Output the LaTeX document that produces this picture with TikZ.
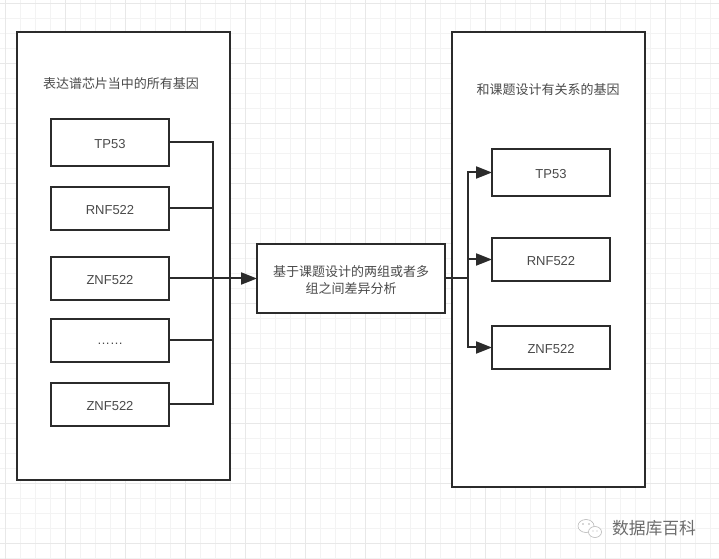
\documentclass[tikz,border=0pt]{standalone}
\usepackage{fontspec}
\setmainfont{Liberation Sans}
\newfontfamily\cjk{Noto Sans CJK SC}
\usetikzlibrary{arrows.meta,positioning,calc}
\definecolor{ink}{HTML}{2B2B2B}
\definecolor{label}{HTML}{4A4A4A}
\definecolor{gridminor}{HTML}{F3F3F3}
\definecolor{gridmajor}{HTML}{E8E8E8}
\tikzset{
  every node/.style={inner sep=0pt,outer sep=0pt},
  panel/.style={draw=ink,line width=1.6pt,fill=white},
  genebox/.style={draw=ink,line width=1.6pt,fill=white,text=label,text height=9.5pt,text depth=0pt,font=\fontsize{9.75pt}{12pt}\selectfont},
  caption/.style={text=label,font=\cjk\fontsize{9.75pt}{14pt}\selectfont},
  wire/.style={draw=ink,line width=1.5pt},
  feed/.style={wire,-{Triangle[length=12pt,width=9pt]}},
}
\begin{document}
\begin{tikzpicture}[x=0.75pt,y=-0.75pt]
\useasboundingbox (0,0) rectangle (719,559);
\fill[white] (0,0) rectangle (719,559);
% background grid
\foreach \x in {5,20,...,719} \draw[gridminor,line width=0.6pt] (\x,0) -- (\x,559);
\foreach \y in {3,18,...,559} \draw[gridminor,line width=0.6pt] (0,\y) -- (719,\y);
\foreach \x in {5,65,...,719} \draw[gridmajor,line width=0.7pt] (\x,0) -- (\x,559);
\foreach \y in {3,63,...,559} \draw[gridmajor,line width=0.7pt] (0,\y) -- (719,\y);
% outer panels
\node[panel,minimum width=159.75pt,minimum height=336pt] (src) at (123.5,256) {};
\node[panel,minimum width=144.75pt,minimum height=341.25pt] (dst) at (548.5,259.5) {};
\node[caption] (srctitle) at (121,83.5) {表达谱芯片当中的所有基因};
\node[caption] (dsttitle) at (548,89.5) {和课题设计有关系的基因};
% source genes
\node[genebox,minimum width=88.5pt,minimum height=35.25pt] (a1) at (110,142.5) {TP53};
\node[genebox,minimum width=88.5pt,minimum height=32.25pt] (a2) at (110,208.5) {RNF522};
\node[genebox,minimum width=88.5pt,minimum height=32.25pt] (a3) at (110,278.5) {ZNF522};
\node[genebox,minimum width=88.5pt,minimum height=32.25pt,text height=6pt] (a4) at (110,340.5) {……};
\node[genebox,minimum width=88.5pt,minimum height=32.25pt] (a5) at (110,404.5) {ZNF522};
% analysis step
\node[draw=ink,line width=1.6pt,fill=white,text=label,minimum width=141pt,minimum height=51.75pt,align=center,font=\cjk\fontsize{9.75pt}{12.75pt}\selectfont] (mid) at (351,278.5) {\rule{0pt}{11.1pt}基于课题设计的两组或者多\\组之间差异分析};
% result genes
\node[genebox,minimum width=88.5pt,minimum height=35.25pt] (b1) at (551,172.5) {TP53};
\node[genebox,minimum width=88.5pt,minimum height=32.25pt] (b2) at (551,259.5) {RNF522};
\node[genebox,minimum width=88.5pt,minimum height=32.25pt] (b3) at (551,347.5) {ZNF522};
% collecting bus on the left
\coordinate (bustop) at (213,0 |- a1.east);
\coordinate (busbot) at (213,0 |- a5.east);
\draw[wire] (a1.east) -- (a1.east -| bustop) -- (busbot) -- (a5.east);
\draw[wire] (a2.east) -- (a2.east -| bustop);
\draw[wire] (a4.east) -- (a4.east -| bustop);
\draw[feed] (a3.east) -- (mid.west);
% distributing bus on the right
\coordinate (split) at (468,0 |- mid.east);
\draw[wire] (mid.east) -- (split);
\draw[feed] (split) |- (b1.west);
\draw[feed] (split) -- (split |- b2.west) -- (b2.west);
\draw[feed] (split) |- (b3.west);
% footer mark
\begin{scope}[draw=gray!55,line width=0.45pt]
  \draw[fill=white] (586,526) ellipse (8 and 6.5);
  \draw[fill=white] (595,532) ellipse (6.5 and 5.5);
  \fill[gray!60] (583,524) circle (0.8) (589,524) circle (0.8) (593,531) circle (0.6) (597,531) circle (0.6);
\end{scope}
\node[text=gray!85!black,font=\cjk\fontsize{12.6pt}{14pt}\selectfont] (mark) at (654,528.5) {数据库百科};
\end{tikzpicture}
\end{document}
